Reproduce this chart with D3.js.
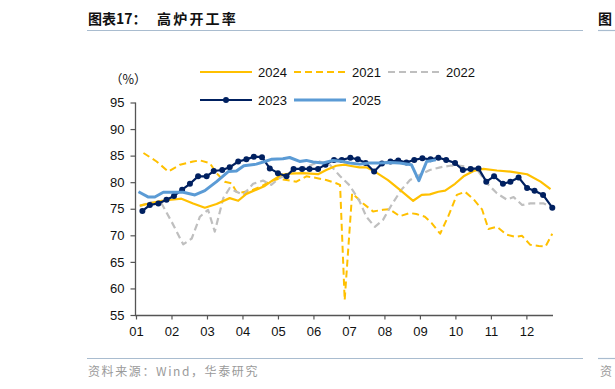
<!DOCTYPE html>
<html>
<head>
<meta charset="utf-8">
<script src="https://cdn.jsdelivr.net/npm/d3@7"></script>
<style>
  html, body { margin: 0; padding: 0; background: #fff; }
  svg { display: block; }
</style>
</head>
<body>
<script>
// ---------- DATA ----------
const monthLabels = ["01","02","03","04","05","06","07","08","09","10","11","12"];
const yTicks = [55, 60, 65, 70, 75, 80, 85, 90, 95];
const seriesNames = ["2024", "2021", "2022", "2023", "2025"];

// [month position (0 = start of Jan), value %]
const data2021 = [[0.21,85.5],[0.58,83.9],[0.91,82.0],[1.24,83.3],[1.61,83.9],[1.8,84.1],[2.08,83.6],[2.27,81.7],[2.5,80.1],[2.69,79.8],[2.83,78.2],[3.02,78.1],[3.3,78.6],[3.53,79.2],[3.77,80.1],[4.0,80.6],[4.24,80.4],[4.52,80.1],[4.8,81.1],[5.08,80.8],[5.36,80.4],[5.64,79.8],[5.75,79.5],[5.88,57.8],[6.09,77.9],[6.4,76.0],[6.68,74.5],[6.96,74.8],[7.15,74.9],[7.43,73.6],[7.72,74.2],[7.9,74.0],[8.14,73.5],[8.33,72.3],[8.57,70.3],[8.8,73.6],[9.04,77.6],[9.27,78.2],[9.51,76.8],[9.75,74.9],[9.93,71.2],[10.17,71.6],[10.45,70.1],[10.69,69.7],[10.88,69.9],[11.11,68.2],[11.35,68.0],[11.54,67.9],[11.73,70.3]];

const data2022 = [[0.1,75.5],[0.4,76.2],[0.72,76.0],[1.0,72.6],[1.33,68.3],[1.57,69.4],[1.8,73.5],[2.03,74.8],[2.22,70.7],[2.46,77.0],[2.64,78.9],[2.83,78.2],[3.02,77.6],[3.3,79.7],[3.58,80.3],[3.81,79.5],[4.05,80.8],[4.33,81.7],[4.61,82.6],[4.89,83.1],[5.17,83.9],[5.45,83.4],[5.74,81.2],[6.02,79.4],[6.3,76.4],[6.49,73.5],[6.73,71.6],[6.96,72.9],[7.2,75.7],[7.48,78.6],[7.72,80.4],[8.0,81.4],[8.28,82.3],[8.57,82.8],[8.85,83.1],[9.13,83.1],[9.42,82.8],[9.65,82.0],[9.89,79.8],[10.17,77.9],[10.45,76.7],[10.64,77.2],[10.88,75.7],[11.11,76.0],[11.49,76.0],[11.73,75.2]];

const data2024 = [[0.11,75.6],[0.39,76.0],[0.72,76.5],[1.0,76.7],[1.28,76.9],[1.61,76.0],[1.94,75.2],[2.27,75.9],[2.64,77.0],[2.88,76.5],[3.11,77.8],[3.39,78.6],[3.63,79.3],[3.86,80.4],[4.1,81.4],[4.33,81.6],[4.7,81.7],[5.13,81.5],[5.36,82.3],[5.64,83.1],[5.88,83.3],[6.02,83.1],[6.3,82.8],[6.49,82.8],[6.73,82.0],[7.1,80.4],[7.43,78.6],[7.81,76.5],[8.05,77.6],[8.28,77.7],[8.52,78.2],[8.71,78.4],[8.99,79.7],[9.23,81.1],[9.51,82.1],[9.79,82.5],[10.17,82.2],[10.55,82.0],[11.02,81.5],[11.4,80.1],[11.68,78.7]];

const data2023 = [[0.18,74.6],[0.39,75.7],[0.63,76.0],[0.86,76.7],[1.07,77.4],[1.30,78.6],[1.52,79.7],[1.75,81.1],[1.99,81.1],[2.19,82.1],[2.43,82.3],[2.64,82.8],[2.88,83.9],[3.11,84.3],[3.32,84.8],[3.55,84.7],[3.77,82.6],[4.0,81.7],[4.24,81.1],[4.44,82.5],[4.68,82.5],[4.89,82.5],[5.13,82.5],[5.34,83.3],[5.58,84.2],[5.80,84.2],[6.04,84.6],[6.25,84.3],[6.47,83.6],[6.71,82.0],[6.93,83.5],[7.17,83.9],[7.39,84.1],[7.62,83.7],[7.84,84.2],[8.07,84.5],[8.3,84.3],[8.52,84.6],[8.74,84.2],[8.99,83.6],[9.21,82.3],[9.43,82.5],[9.65,82.6],[9.87,80.1],[10.09,81.1],[10.34,79.7],[10.55,80.1],[10.78,80.9],[11.02,78.9],[11.23,78.4],[11.47,77.6],[11.73,75.2]];

const data2025 = [[0.07,78.2],[0.35,77.2],[0.53,77.2],[0.77,78.1],[1.05,78.1],[1.33,78.1],[1.66,77.6],[1.94,78.4],[2.27,80.1],[2.6,82.0],[2.83,82.1],[3.04,83.1],[3.39,83.4],[3.63,83.9],[3.81,84.3],[4.14,84.4],[4.33,84.65],[4.61,83.9],[4.8,84.1],[4.99,83.8],[5.27,83.6],[5.55,84.1],[5.83,83.9],[6.02,83.6],[6.3,83.4],[6.58,83.6],[6.87,83.6],[7.15,83.7],[7.43,83.6],[7.76,83.3],[7.97,80.3],[8.19,83.9],[8.45,84.2]];

// ---------- STYLE ----------
const W = 615, H = 389;
const GOLD = "#FFC000", GRAY = "#BFBFBF", NAVY = "#002060", BLUE = "#5B9BD5";
const latin = "'Liberation Sans', Arial, sans-serif";
const cjk = "'Noto Sans CJK SC', 'Liberation Sans', sans-serif";

const svg = d3.select("body").append("svg").attr("width", W).attr("height", H);

// header / footer
const title = svg.append("text").attr("y", 24)
  .attr("font-family", cjk).attr("font-weight", 700).attr("font-size", 14).attr("fill", "#111");
title.append("tspan").attr("x", 88).text("图表17：");
title.append("tspan").attr("x", 157).attr("letter-spacing", 2.2).text("高炉开工率");
svg.append("text").attr("x", 598).attr("y", 24)
  .attr("font-family", cjk).attr("font-weight", 700).attr("font-size", 14).attr("fill", "#111")
  .text("图");
const ruleColor = "#A9BCCF";
[[87, 583], [598, 615]].forEach(([a, b]) => {
  svg.append("line").attr("x1", a).attr("x2", b).attr("y1", 30.5).attr("y2", 30.5).attr("stroke", ruleColor).attr("stroke-width", 1.2);
  svg.append("line").attr("x1", a).attr("x2", b).attr("y1", 358.5).attr("y2", 358.5).attr("stroke", ruleColor).attr("stroke-width", 1.2);
});
svg.append("text").attr("x", 88).attr("y", 376)
  .attr("font-family", cjk).attr("font-size", 12).attr("fill", "#9a9a9a").attr("letter-spacing", 1.6)
  .text("资料来源：Wind，华泰研究");
svg.append("text").attr("x", 600).attr("y", 376)
  .attr("font-family", cjk).attr("font-size", 12).attr("fill", "#9a9a9a").text("资");

// ---------- SCALES ----------
const x = d3.scaleLinear().domain([0, 11.75]).range([136, 553]);
const y = d3.scaleLinear().domain([55, 95]).range([315, 102.5]);

// axes
const axisColor = "#555";
const yAxis = svg.append("g").attr("transform", "translate(135.5,0)")
  .call(d3.axisLeft(y).tickValues(yTicks).tickSize(5).tickSizeOuter(0).tickPadding(6));
const xAxis = svg.append("g").attr("transform", "translate(0,315.5)")
  .call(d3.axisBottom(x).tickValues(d3.range(12)).tickFormat(i => monthLabels[i]).tickSize(4).tickSizeOuter(0).tickPadding(7));
[yAxis, xAxis].forEach(g => {
  g.select(".domain").attr("stroke", axisColor).attr("stroke-width", 1.3);
  g.selectAll(".tick line").attr("stroke", axisColor).attr("stroke-width", 1.2);
  g.selectAll("text").attr("font-family", latin).attr("font-size", 13).attr("fill", "#111");
});
yAxis.select(".domain").attr("d", `M0,${y(95)}V${y(55) + 0.5}`);
xAxis.select(".domain").attr("d", `M135,0H553`);

svg.append("text").attr("x", 110).attr("y", 84)
  .attr("font-family", cjk).attr("font-size", 12.5).attr("fill", "#111").text("（%）");

// ---------- LINES ----------
const line = d3.line().x(d => x(d[0])).y(d => y(d[1]));
const series = [
  { name: "2021", data: data2021, color: GOLD, w: 2, dash: "7,4" },
  { name: "2022", data: data2022, color: GRAY, w: 2.2, dash: "7,4" },
  { name: "2024", data: data2024, color: GOLD, w: 2.2, dash: null },
  { name: "2023", data: data2023, color: NAVY, w: 2.2, dash: null, dots: true },
  { name: "2025", data: data2025, color: BLUE, w: 3, dash: null }
];
series.forEach(s => {
  svg.append("path").datum(s.data).attr("d", line)
    .attr("fill", "none").attr("stroke", s.color).attr("stroke-width", s.w)
    .attr("stroke-dasharray", s.dash).attr("stroke-linejoin", "round");
  if (s.dots) {
    svg.append("g").selectAll("circle").data(s.data).join("circle")
      .attr("cx", d => x(d[0])).attr("cy", d => y(d[1])).attr("r", 3).attr("fill", s.color);
  }
});

// ---------- LEGEND ----------
const legendItems = [
  { name: seriesNames[0], color: GOLD, w: 2.2, dash: null, lx: 200, ly: 72 },
  { name: seriesNames[1], color: GOLD, w: 2.2, dash: "7,4", lx: 294, ly: 72 },
  { name: seriesNames[2], color: GRAY, w: 2.2, dash: "7,4", lx: 388, ly: 72 },
  { name: seriesNames[3], color: NAVY, w: 2.2, dash: null, lx: 200, ly: 100, dot: true },
  { name: seriesNames[4], color: BLUE, w: 3, dash: null, lx: 294, ly: 100 }
];
legendItems.forEach(it => {
  const g = svg.append("g").attr("transform", `translate(${it.lx},${it.ly})`);
  g.append("line").attr("x1", 0).attr("x2", 52).attr("y1", 0).attr("y2", 0)
    .attr("stroke", it.color).attr("stroke-width", it.w).attr("stroke-dasharray", it.dash);
  if (it.dot) g.append("circle").attr("cx", 26).attr("cy", 0).attr("r", 3).attr("fill", it.color);
  g.append("text").attr("x", 58).attr("y", 0).attr("dy", "0.36em")
    .attr("font-family", latin).attr("font-size", 13).attr("fill", "#111").text(it.name);
});
</script>
</body>
</html>
